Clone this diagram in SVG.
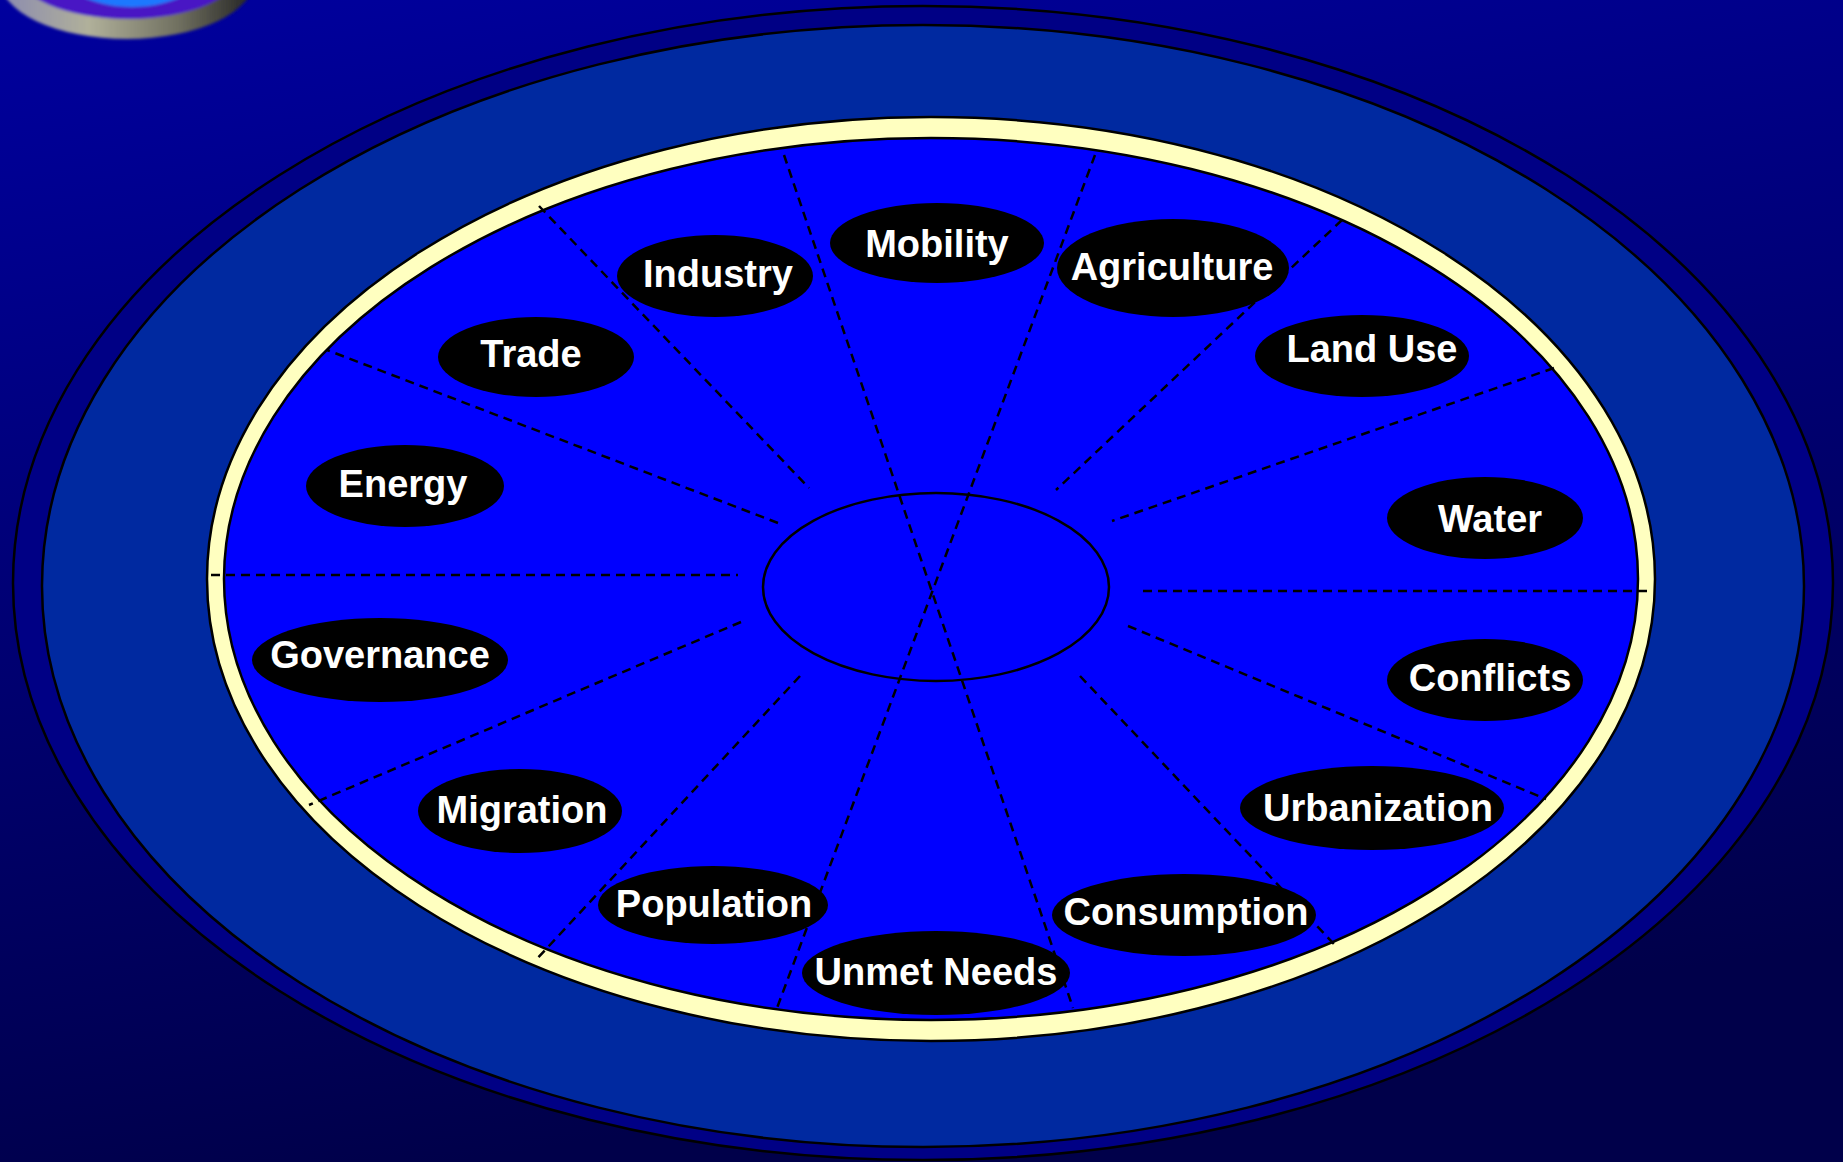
<svg xmlns="http://www.w3.org/2000/svg" width="1843" height="1162" viewBox="0 0 1843 1162">
  <defs>
    <linearGradient id="bg" x1="0" y1="0" x2="0.25" y2="1">
      <stop offset="0" stop-color="#00009E"/>
      <stop offset="1" stop-color="#00004A"/>
    </linearGradient>
    <linearGradient id="rim" x1="0" y1="0" x2="1" y2="0">
      <stop offset="0" stop-color="#8A8AB0"/>
      <stop offset="0.35" stop-color="#B0B09A"/>
      <stop offset="0.7" stop-color="#707060"/>
      <stop offset="1" stop-color="#202020"/>
    </linearGradient>
    <filter id="soft" x="-10%" y="-10%" width="120%" height="120%">
      <feGaussianBlur stdDeviation="1.6"/>
    </filter>
    <style>
      .ring { stroke: #000; stroke-width: 2.5; }
      .spoke { stroke: #000; stroke-width: 2.5; stroke-dasharray: 9 6; fill: none; }
      .node ellipse { fill: #000; }
      .node text { fill: #fff; font-family: "Liberation Sans", Arial, sans-serif; font-weight: bold; font-size: 38px; text-anchor: middle; }
    </style>
  </defs>

  <rect x="0" y="0" width="1843" height="1162" fill="url(#bg)"/>

  <g id="corner-disc" filter="url(#soft)">
    <ellipse cx="127" cy="-22" rx="128" ry="61" fill="url(#rim)"/>
    <ellipse cx="128" cy="-30" rx="112" ry="49" fill="#4A12C4"/>
    <ellipse cx="132" cy="-36" rx="76" ry="43" fill="#1E78FF"/>
  </g>

  <g id="rings">
    <ellipse class="ring" cx="923" cy="583" rx="910" ry="577" fill="#000085"/>
    <ellipse class="ring" cx="923" cy="586" rx="881" ry="561" fill="#0029A0"/>
    <ellipse class="ring" cx="931" cy="579" rx="724" ry="462" fill="#FFFFC0"/>
    <ellipse class="ring" cx="931" cy="579" rx="707" ry="441" fill="#0000FF"/>
  </g>

  <g id="connectors">
    <line class="spoke" x1="539" y1="206" x2="809" y2="488"/>
    <line class="spoke" x1="784" y1="155" x2="1073" y2="1008"/>
    <line class="spoke" x1="1095" y1="155" x2="777" y2="1008"/>
    <line class="spoke" x1="1342" y1="220" x2="1056" y2="490"/>
    <line class="spoke" x1="1554" y1="368" x2="1112" y2="521"/>
    <line class="spoke" x1="1143" y1="591" x2="1652" y2="591"/>
    <line class="spoke" x1="1128" y1="626" x2="1546" y2="799"/>
    <line class="spoke" x1="1080" y1="676" x2="1334" y2="944"/>
    <line class="spoke" x1="800" y1="676" x2="535" y2="961"/>
    <line class="spoke" x1="741" y1="622" x2="309" y2="805"/>
    <line class="spoke" x1="211" y1="575" x2="738" y2="575"/>
    <line class="spoke" x1="778" y1="523" x2="327" y2="350"/>
  </g>

  <g id="center">
    <ellipse class="ring" cx="936" cy="587" rx="173" ry="94" fill="none"/>
  </g>

  <g id="node-mobility" class="node"><ellipse cx="937" cy="243" rx="107" ry="40"/><text x="937" y="257">Mobility</text></g>
  <g id="node-industry" class="node"><ellipse cx="715" cy="276" rx="98" ry="41"/><text x="718" y="287">Industry</text></g>
  <g id="node-agriculture" class="node"><ellipse cx="1173" cy="268" rx="116" ry="49"/><text x="1172" y="280">Agriculture</text></g>
  <g id="node-trade" class="node"><ellipse cx="536" cy="357" rx="98" ry="40"/><text x="531" y="367">Trade</text></g>
  <g id="node-landuse" class="node"><ellipse cx="1362" cy="356" rx="107" ry="41"/><text x="1372" y="362">Land Use</text></g>
  <g id="node-energy" class="node"><ellipse cx="405" cy="486" rx="99" ry="41"/><text x="403" y="497">Energy</text></g>
  <g id="node-water" class="node"><ellipse cx="1485" cy="518" rx="98" ry="41"/><text x="1490" y="532">Water</text></g>
  <g id="node-governance" class="node"><ellipse cx="380" cy="660" rx="128" ry="42"/><text x="380" y="668">Governance</text></g>
  <g id="node-conflicts" class="node"><ellipse cx="1485" cy="680" rx="98" ry="41"/><text x="1490" y="691">Conflicts</text></g>
  <g id="node-migration" class="node"><ellipse cx="520" cy="811" rx="102" ry="42"/><text x="522" y="823">Migration</text></g>
  <g id="node-urbanization" class="node"><ellipse cx="1372" cy="808" rx="132" ry="42"/><text x="1378" y="821">Urbanization</text></g>
  <g id="node-population" class="node"><ellipse cx="713" cy="905" rx="115" ry="39"/><text x="714" y="917">Population</text></g>
  <g id="node-consumption" class="node"><ellipse cx="1184" cy="915" rx="132" ry="41"/><text x="1186" y="925">Consumption</text></g>
  <g id="node-unmetneeds" class="node"><ellipse cx="936" cy="973" rx="134" ry="42"/><text x="936" y="985">Unmet Needs</text></g>
</svg>
